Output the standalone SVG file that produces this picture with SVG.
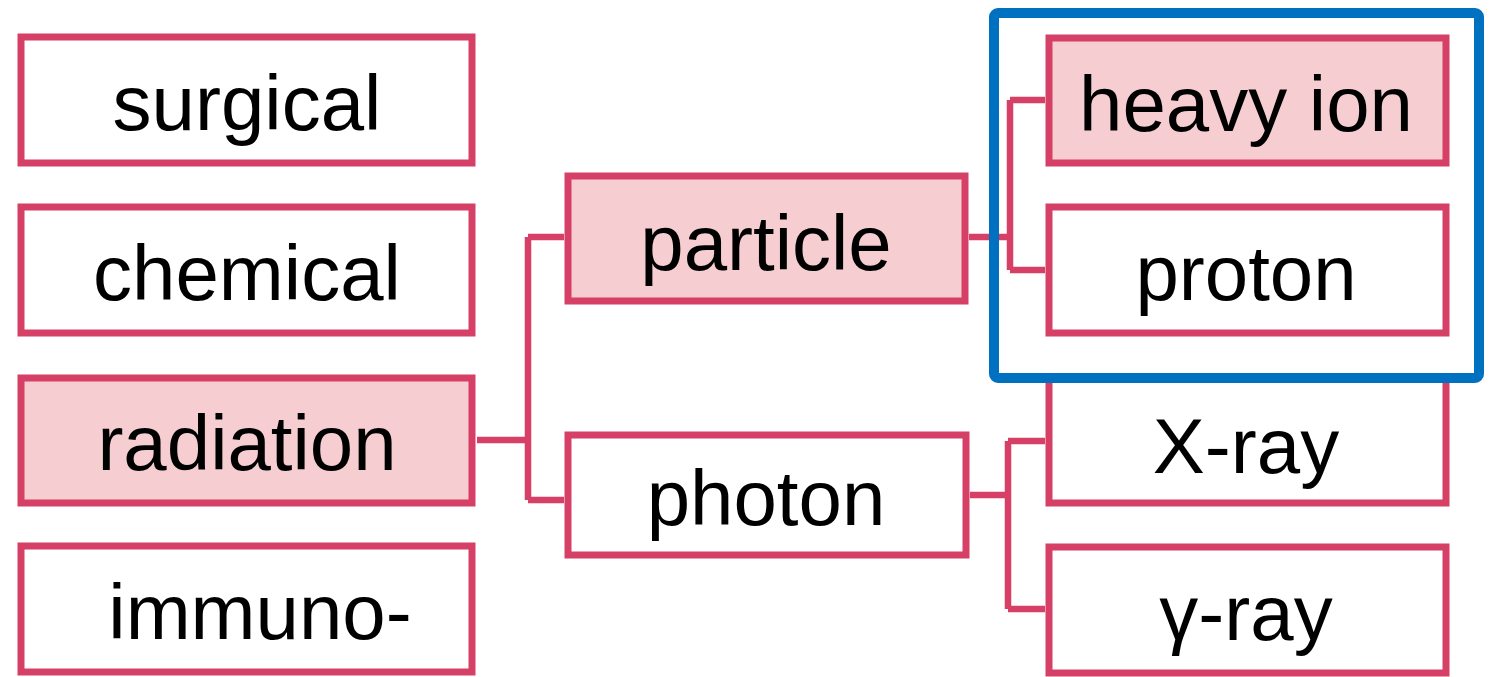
<svg xmlns="http://www.w3.org/2000/svg" width="1493" height="677" viewBox="0 0 1493 677">
<style>
.box{fill:#ffffff;stroke:#d63f66;stroke-width:7}
.hl{fill:#f6cdd0}
.lbl{font-family:"Liberation Sans",Arial,sans-serif;font-size:78px;fill:#000;text-anchor:middle}
.conn{fill:none;stroke:#d63f66;stroke-width:6.5}
.sel{fill:none;stroke:#0070c0;stroke-width:10}
</style>
<rect width="1493" height="677" fill="#ffffff"/>
<g id="connectors">
<path class="conn" d="M477 440 H528 M528 237 V500 M528 237 H564 M528 500 H564"/>
<path class="conn" d="M969 237 H1010 M1010 100 V270 M1010 100 H1045 M1010 270 H1045"/>
<path class="conn" d="M970 495 H1008 M1008 441 V609 M1008 441 H1045 M1008 609 H1045"/>
</g>
<g id="surgical"><rect class="box" x="21" y="37" width="451" height="126"/><text class="lbl" x="247" y="130">surgical</text></g>
<g id="chemical"><rect class="box" x="21" y="207" width="451" height="126"/><text class="lbl" x="247" y="300">chemical</text></g>
<g id="radiation"><rect class="box hl" x="21" y="378" width="451" height="125"/><text class="lbl" x="247" y="470">radiation</text></g>
<g id="immuno"><rect class="box" x="21" y="546" width="451" height="126"/><text class="lbl" x="260" y="639">immuno-</text></g>
<g id="particle"><rect class="box hl" x="568" y="176" width="397" height="125"/><text class="lbl" x="766" y="270">particle</text></g>
<g id="photon"><rect class="box" x="568" y="435" width="398" height="120"/><text class="lbl" x="766" y="525">photon</text></g>
<g id="heavy-ion"><rect class="box hl" x="1049" y="38" width="397" height="125"/><text class="lbl" x="1246" y="131">heavy ion</text></g>
<g id="proton"><rect class="box" x="1049" y="207" width="397" height="126"/><text class="lbl" x="1246" y="300">proton</text></g>
<g id="x-ray"><rect class="box" x="1049" y="379" width="397" height="124"/><text class="lbl" x="1246" y="473">X-ray</text></g>
<g id="gamma-ray"><rect class="box" x="1049" y="547" width="397" height="126"/><text class="lbl" x="1246" y="640">γ-ray</text></g>
<g id="selection"><rect class="sel" x="994" y="13" width="485" height="365" rx="4"/></g>
</svg>
